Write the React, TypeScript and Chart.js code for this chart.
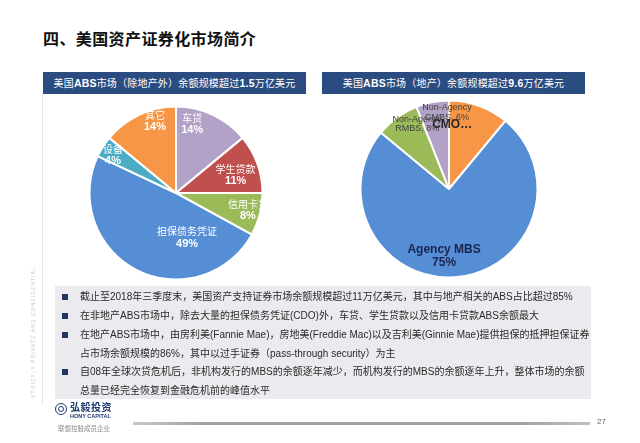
import React, { useEffect, useRef } from "react";
import { Chart, registerables } from "chart.js";

Chart.register(...registerables);

// ---------- data ----------
const nonRealEstateCategories = ["车贷", "学生贷款", "信用卡贷", "担保债务凭证", "设备", "其它"];
const nonRealEstateValues = [14, 11, 8, 49, 4, 14];

const realEstateCategories = ["CMO", "Agency MBS", "Non-Agency RMBS", "Non-Agency CMBS"];
const realEstateValues = [11, 75, 8, 6];

const pageTitle = "四、美国资产证券化市场简介";
const leftHeader = ["美国", "ABS", "市场（除地产外）余额规模超过", "1.5", "万亿美元"];
const rightHeader = ["美国", "ABS", "市场（地产）余额规模超过", "9.6", "万亿美元"];

const bulletLines = [
  { bullet: true, text: "截止至2018年三季度末，美国资产支持证券市场余额规模超过11万亿美元，其中与地产相关的ABS占比超过85%" },
  { bullet: true, text: "在非地产ABS市场中，除去大量的担保债务凭证(CDO)外，车贷、学生贷款以及信用卡贷款ABS余额最大" },
  { bullet: true, text: "在地产ABS市场中，由房利美(Fannie Mae)，房地美(Freddie Mac)以及吉利美(Ginnie Mae)提供担保的抵押担保证券" },
  { bullet: false, text: "占市场余额规模的86%，其中以过手证券（pass-through security）为主" },
  { bullet: true, text: "自08年全球次贷危机后，非机构发行的MBS的余额逐年减少，而机构发行的MBS的余额逐年上升，整体市场的余额" },
  { bullet: false, text: "总量已经完全恢复到金融危机前的峰值水平" },
];

// ---------- styles ----------
const CJK = "'Noto Sans CJK SC'";
const LAT = "'Liberation Sans', Arial";

const leftColors = ["#b3a2c7", "#c0504d", "#9bbb59", "#558ed5", "#4bacc6", "#f79646"];
const rightColors = ["#f79646", "#558ed5", "#9bbb59", "#b3a2c7"];

// label placement: radius fraction and angular shift (deg) relative to slice middle
const leftPlace = [
  { r: 0.82, shift: -12 },
  { r: 0.72, shift: 3 },
  { r: 0.855, shift: -1 },
  { r: 0.53, shift: -41 },
  { r: 0.85, shift: -1.4 },
  { r: 0.87, shift: 9 },
];
const rightPlace = [
  { r: 0.73, shift: -17 },
  { r: 0.76, shift: 9.6 },
  { r: 0.82, shift: 10 },
  { r: 0.865, shift: 9.3 },
];

type Line = { text: string; font: string; color: string };
type LabelSpec = { lines: Line[]; lh: number };

const leftLabels: LabelSpec[] = nonRealEstateCategories.map((c, i) => ({
  lh: 12,
  lines: [
    { text: c, font: `10px ${CJK}`, color: "#ffffff" },
    { text: `${nonRealEstateValues[i]}%`, font: `bold 11px ${LAT}`, color: "#ffffff" },
  ],
}));

const rightLabels: LabelSpec[] = realEstateCategories.map((c, i) => {
  const v = realEstateValues[i];
  if (c === "CMO") {
    return { lh: 12, lines: [{ text: `${c}…`, font: `bold 12px ${LAT}`, color: "#262626" }] };
  }
  if (c.startsWith("Non-Agency")) {
    const rest = c.replace("Non-Agency ", "");
    return {
      lh: 9.5,
      lines: [
        { text: "Non-Agency", font: `9px ${LAT}`, color: "#3f3f3f" },
        { text: `${rest}, ${v}%`, font: `9px ${LAT}`, color: "#3f3f3f" },
      ],
    };
  }
  return {
    lh: 12.5,
    lines: [
      { text: c, font: `bold 12px ${LAT}`, color: "#1b2350" },
      { text: `${v}%`, font: `bold 12px ${LAT}`, color: "#1b2350" },
    ],
  };
});

const sliceLabels = {
  id: "sliceLabels",
  afterDatasetsDraw(chart: any, _args: any, opts: any) {
    const meta = chart.getDatasetMeta(0);
    const ctx = chart.ctx as CanvasRenderingContext2D;
    const order: number[] = opts.order || meta.data.map((_: any, i: number) => i);
    ctx.save();
    ctx.textAlign = "center";
    ctx.textBaseline = "middle";
    order.forEach((i) => {
      const arc = meta.data[i];
      const p = arc.getProps(["x", "y", "startAngle", "endAngle", "outerRadius"], true);
      const place = opts.place[i];
      const a = (p.startAngle + p.endAngle) / 2 + (place.shift * Math.PI) / 180;
      const rr = p.outerRadius * place.r;
      const cx = p.x + rr * Math.cos(a);
      const cy = p.y + rr * Math.sin(a);
      const spec: LabelSpec = opts.labels[i];
      const n = spec.lines.length;
      spec.lines.forEach((ln, k) => {
        ctx.font = ln.font;
        ctx.fillStyle = ln.color;
        ctx.fillText(ln.text, cx, cy + (k - (n - 1) / 2) * spec.lh);
      });
    });
    ctx.restore();
  },
};

function PieCanvas(props: {
  labels: string[];
  values: number[];
  colors: string[];
  radius: number;
  place: { r: number; shift: number }[];
  specs: LabelSpec[];
  order?: number[];
  style: React.CSSProperties;
  size: number;
}) {
  const ref = useRef<HTMLCanvasElement>(null);
  useEffect(() => {
    if (!ref.current) return;
    const chart = new Chart(ref.current, {
      type: "pie",
      data: {
        labels: props.labels,
        datasets: [
          {
            data: props.values,
            backgroundColor: props.colors,
            borderColor: "#ffffff",
            borderWidth: 2,
            hoverOffset: 0,
          } as any,
        ],
      },
      options: {
        animation: false,
        responsive: false,
        events: [],
        radius: props.radius,
        layout: { padding: 0 },
        plugins: {
          legend: { display: false },
          tooltip: { enabled: false },
          sliceLabels: { place: props.place, labels: props.specs, order: props.order },
        } as any,
      } as any,
      plugins: [sliceLabels],
    });
    return () => chart.destroy();
  }, []);
  return (
    <canvas
      ref={ref}
      width={props.size}
      height={props.size}
      style={{ position: "absolute", width: props.size, height: props.size, ...props.style }}
    />
  );
}

function Header({ parts, left }: { parts: string[]; left: number }) {
  return (
    <div
      style={{
        position: "absolute",
        left,
        top: 72,
        width: 263,
        height: 22,
        background: "#2b4c80",
        color: "#ffffff",
        fontSize: 10,
        lineHeight: "22px",
        textAlign: "center",
        fontFamily: `${LAT}, ${CJK}`,
        whiteSpace: "nowrap",
        letterSpacing: 0.2,
      }}
    >
      {parts.map((p, i) =>
        /[A-Za-z0-9]/.test(p) ? (
          <b key={i} style={{ fontSize: 10.5 }}>{p}</b>
        ) : (
          <span key={i}>{p}</span>
        )
      )}
    </div>
  );
}

export default function App() {
  const rowY = [297, 316, 335, 353.5, 372, 391];
  return (
    <div
      style={{
        position: "fixed",
        left: 0,
        top: 0,
        width: 640,
        height: 443,
        background: "#ffffff",
        overflow: "hidden",
        fontFamily: `${LAT}, ${CJK}`,
      }}
    >
      <div
        style={{
          position: "absolute",
          left: 43,
          top: 28,
          fontSize: 16,
          lineHeight: "20px",
          fontWeight: "bold",
          color: "#111",
          fontFamily: CJK,
          letterSpacing: 0.4,
          whiteSpace: "nowrap",
        }}
      >
        {pageTitle}
      </div>

      <div style={{ position: "absolute", left: 42, top: 94, width: 1, height: 311, background: "#e4e4e4" }} />
      <div
        style={{
          position: "absolute",
          left: 33 - 70,
          top: 332 - 4,
          width: 140,
          height: 8,
          lineHeight: "8px",
          fontSize: 5,
          letterSpacing: 1.1,
          color: "#c4c4c4",
          textAlign: "center",
          transform: "rotate(-90deg)",
          whiteSpace: "nowrap",
        }}
      >
        STRICTLY PRIVATE AND CONFIDENTIAL
      </div>

      <PieCanvas
        labels={nonRealEstateCategories}
        values={nonRealEstateValues}
        colors={leftColors}
        radius={86.5}
        place={leftPlace}
        specs={leftLabels}
        size={200}
        style={{ left: 176 - 100, top: 193 - 100 }}
      />
      <PieCanvas
        labels={realEstateCategories}
        values={realEstateValues}
        colors={rightColors}
        radius={88.5}
        place={rightPlace}
        specs={rightLabels}
        order={[2, 3, 1, 0]}
        size={200}
        style={{ left: 449 - 100, top: 189 - 100 }}
      />

      <Header parts={leftHeader} left={43} />
      <Header parts={rightHeader} left={322} />

      <div style={{ position: "absolute", left: 55, top: 286, width: 536, height: 113, background: "#ebebef" }} />
      {bulletLines.map((b, i) => (
        <React.Fragment key={i}>
          {b.bullet && (
            <div
              style={{
                position: "absolute",
                left: 62,
                top: rowY[i] - 3,
                width: 6,
                height: 6,
                background: "#22375f",
              }}
            />
          )}
          <div
            style={{
              position: "absolute",
              left: 80,
              top: rowY[i] - 7,
              height: 14,
              lineHeight: "14px",
              fontSize: 10,
              color: "#2a2a2a",
              whiteSpace: "nowrap",
            }}
          >
            {b.text}
          </div>
        </React.Fragment>
      ))}

      {/* logo */}
      <div
        style={{
          position: "absolute",
          left: 55,
          top: 403,
          width: 10,
          height: 10,
          borderRadius: "50%",
          border: "1.5px solid #1f3a6e",
        }}
      >
        <div style={{ position: "absolute", left: 2, top: 2, width: 6, height: 6, borderRadius: "50%", border: "1px solid #1f3a6e", boxSizing: "border-box" }} />
      </div>
      <div
        style={{
          position: "absolute",
          left: 70,
          top: 401,
          fontSize: 10,
          lineHeight: "12px",
          color: "#1f3a6e",
          fontFamily: CJK,
          fontWeight: "bold",
          letterSpacing: 0.5,
          whiteSpace: "nowrap",
        }}
      >
        弘毅投资
      </div>
      <div
        style={{
          position: "absolute",
          left: 70,
          top: 413,
          fontSize: 5.5,
          lineHeight: "6px",
          color: "#1f3a6e",
          fontWeight: "bold",
          whiteSpace: "nowrap",
        }}
      >
        HONY CAPITAL
      </div>
      <div
        style={{
          position: "absolute",
          left: 58,
          top: 424,
          fontSize: 6.5,
          lineHeight: "8px",
          color: "#8a8a8a",
          fontFamily: CJK,
          whiteSpace: "nowrap",
        }}
      >
        联想控股成员企业
      </div>
      <div
        style={{
          position: "absolute",
          left: 133,
          top: 422,
          width: 457,
          height: 3,
          background: "linear-gradient(to right, #c8c8c8, #a2a2a2 15%, #a2a2a2 85%, #c0c0c0)",
        }}
      />
      <div style={{ position: "absolute", left: 597, top: 417, fontSize: 8, lineHeight: "10px", color: "#666" }}>27</div>
    </div>
  );
}
